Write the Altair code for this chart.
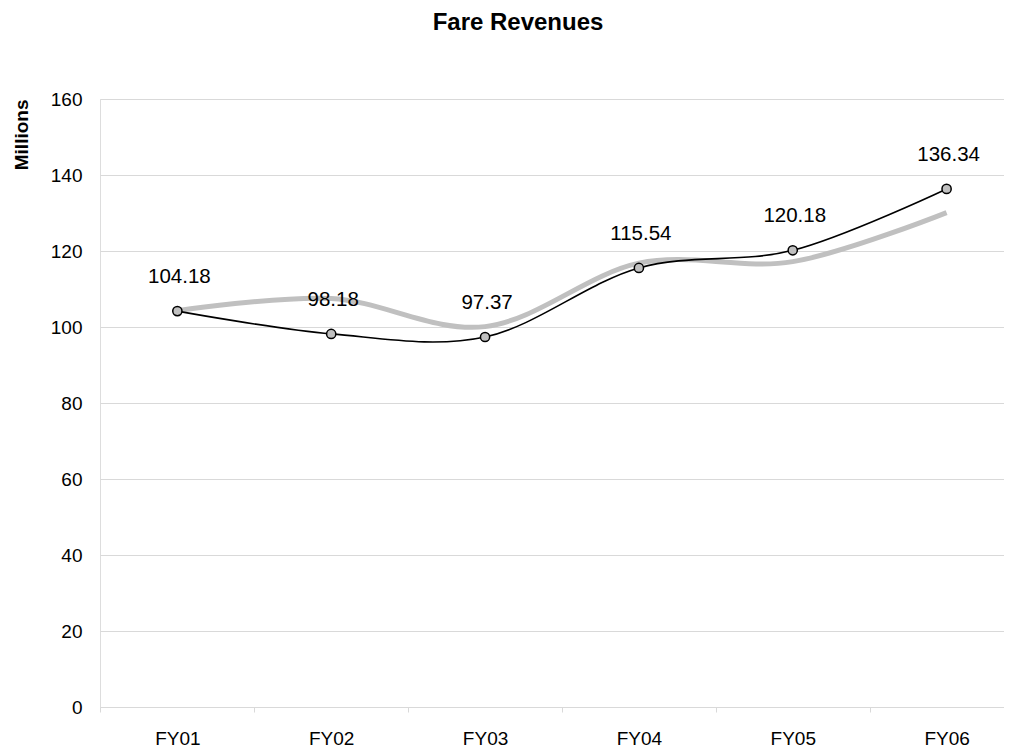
import altair as alt
import pandas as pd

years = ["FY01", "FY02", "FY03", "FY04", "FY05", "FY06"]
revenue = [104.18, 98.18, 97.37, 115.54, 120.18, 136.34]
trend = [104.3, 107.5, 100.1, 116.8, 117.2, 130.1]
y_ticks = [0, 20, 40, 60, 80, 100, 120, 140, 160]

df = pd.DataFrame({"year": years, "revenue": revenue, "trend": trend})

FONT = "Liberation Sans"
GRID = "#d9d9d9"

x_enc = alt.X(
    "year:N",
    sort=years,
    scale=alt.Scale(type="point", padding=0.438, align=0.574),
    axis=alt.Axis(
        title=None,
        labelAngle=0,
        tickOffset=-77,
        labelOffset=77,
        grid=False,
        ticks=True,
        tickSize=5,
        tickColor=GRID,
        domainColor=GRID,
        labelFontSize=19,
        labelColor="#000000",
        labelFont=FONT,
        labelPadding=17,
    ),
)

y_scale = alt.Scale(domain=[0, 160], nice=False, zero=True)

base = alt.Chart(df)

trend_line = base.mark_line(
    color="#c0c0c0", strokeWidth=5, interpolate="cardinal", tension=0
).encode(
    x=x_enc,
    y=alt.Y(
        "trend:Q",
        scale=y_scale,
        axis=alt.Axis(
            values=y_ticks,
            title="Millions",
            titleAnchor="end",
            titleAngle=-90,
            titleAlign="right",
            titleBaseline="alphabetic",
            titleX=-73,
            titleY=0,
            titleFont=FONT,
            titleFontSize=19,
            titleFontWeight="bold",
            titleColor="#000000",
            domain=False,
            ticks=False,
            tickSize=0,
            labelPadding=18,
            labelFontSize=19,
            labelFont=FONT,
            labelColor="#000000",
            grid=True,
            gridColor=GRID,
        ),
    ),
)

rev_line = base.mark_line(
    color="#000000", strokeWidth=1.6, interpolate="cardinal", tension=0
).encode(x=x_enc, y=alt.Y("revenue:Q", scale=y_scale))

rev_points = base.mark_point(
    shape="circle", filled=True, size=85, fill="#c0c0c0", stroke="#000000",
    strokeWidth=1.5, opacity=1
).encode(x=x_enc, y=alt.Y("revenue:Q", scale=y_scale))

rev_labels = base.mark_text(
    fontSize=20.5, font=FONT, color="#000000", baseline="alphabetic",
    align="center", dy=-28, dx=2
).encode(
    x=x_enc,
    y=alt.Y("revenue:Q", scale=y_scale),
    text=alt.Text("revenue:Q", format=".2f"),
)

chart = (
    alt.layer(trend_line, rev_line, rev_points, rev_labels)
    .properties(
        width=904,
        height=608,
        title=alt.TitleParams(
            "Fare Revenues",
            font=FONT,
            fontSize=24,
            fontWeight="bold",
            color="#000000",
            anchor="middle",
            frame="group",
            dx=-34,
            offset=55,
        ),
        autosize=alt.AutoSizeParams(type="none"),
        padding={"left": 92, "top": 91, "right": 0, "bottom": 42},
    )
    .configure_view(stroke=None)
    .configure(background="#ffffff")
)

chart.save("out.html", embed_options={"renderer": "svg", "actions": False})
